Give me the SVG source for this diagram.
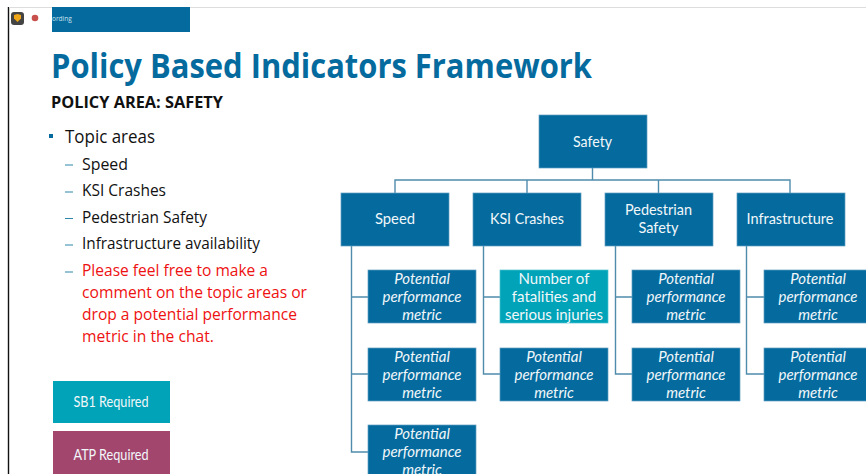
<svg xmlns="http://www.w3.org/2000/svg" width="866" height="474" viewBox="0 0 866 474">
<style>
text{font-family:"Open Sans","Noto Sans","Liberation Sans",sans-serif}
.b{fill:#056b9e;stroke:#5f9fc0;stroke-width:.7}
.t{fill:#00a3b8;stroke:#4fc0cf;stroke-width:.7}
.l{fill:#f2f7fa;font-size:14.400px;text-anchor:middle;font-family:Lato,"Open Sans",sans-serif}
.m{fill:#f2f7fa;font-size:15px;text-anchor:middle;font-style:italic;font-family:Lato,"Open Sans",sans-serif}
.n{fill:#f2f7fa;font-size:15px;text-anchor:middle;font-family:Lato,"Open Sans",sans-serif}
.bul{fill:#111;font-size:16.400px}
.red{fill:#ee1111;font-size:16.400px}
.dash{stroke:#2f86ad;stroke-width:1.2}
#connectors path{fill:none;stroke:#4f8cac;stroke-width:1.400}
</style>
<rect width="866" height="474" fill="#fff"/>
<path d="M8.500 7V474" stroke="#111" stroke-width="1.400"/>
<path d="M9 7.500H866" stroke="#ddd" stroke-width="1"/>
<g id="recording-bar">
<rect x="52" y="7" width="138" height="25" fill="#056b9e"/>
<text x="52" y="21" font-size="6.500" fill="#cfe3ee">ording</text>
<rect x="11" y="12" width="13" height="13" rx="3" fill="#444"/>
<path d="M14 15l3.500-1 3.500 1v3.500l-3.500 3.500-3.500-3.500z" fill="#f0a818"/>
<circle cx="35" cy="18" r="3.300" fill="#c8504c"/>
</g>
<text x="51" y="78" font-size="33.500" font-weight="700" fill="#056b9e" textLength="541" lengthAdjust="spacingAndGlyphs">Policy Based Indicators Framework</text>
<text x="51" y="108" font-size="16" font-weight="700" fill="#111" textLength="172" lengthAdjust="spacingAndGlyphs">POLICY AREA: SAFETY</text>
<rect x="49" y="134" width="4" height="4" fill="#056b9e"/>
<text x="65" y="143" font-size="18" fill="#111" textLength="90" lengthAdjust="spacingAndGlyphs">Topic areas</text>
<g class="dash"><path d="M65 165h8M65 192h8M65 218.500h8M65 245h8M65 272h8"/></g>
<text class="bul" x="82" y="170" textLength="46" lengthAdjust="spacingAndGlyphs">Speed</text>
<text class="bul" x="82" y="196" textLength="84" lengthAdjust="spacingAndGlyphs">KSI Crashes</text>
<text class="bul" x="82" y="223" textLength="125" lengthAdjust="spacingAndGlyphs">Pedestrian Safety</text>
<text class="bul" x="82" y="249" textLength="178" lengthAdjust="spacingAndGlyphs">Infrastructure availability</text>
<text class="red" x="82" y="276" textLength="186" lengthAdjust="spacingAndGlyphs">Please feel free to make a</text>
<text class="red" x="82" y="298" textLength="225" lengthAdjust="spacingAndGlyphs">comment on the topic areas or</text>
<text class="red" x="82" y="320" textLength="215" lengthAdjust="spacingAndGlyphs">drop a potential performance</text>
<text class="red" x="82" y="342" textLength="132" lengthAdjust="spacingAndGlyphs">metric in the chat.</text>
<g id="legend-sb1"><rect x="53" y="381" width="117" height="42" fill="#00a3b8"/><text class="l" x="111" y="407" textLength="75" lengthAdjust="spacingAndGlyphs">SB1 Required</text></g>
<g id="legend-atp"><rect x="53" y="431" width="117" height="43" fill="#a3466e"/><text class="l" x="111" y="460" textLength="75" lengthAdjust="spacingAndGlyphs">ATP Required</text></g>
<g id="connectors">
<path d="M592.500 168V180M395 193V180H790V193M527 180V193M658.500 180V193"/>
<path d="M351.500 246V452H368M351.500 297H368M351.500 374H368"/>
<path d="M483.500 246V374H500M483.500 297H500"/>
<path d="M615.500 246V374H632M615.500 297H632"/>
<path d="M746.500 246V374H764M746.500 297H764"/>
</g>
<g id="safety"><rect class="b" x="539" y="115" width="108" height="53"/><text class="l" x="592.500" y="146.500" textLength="39" lengthAdjust="spacingAndGlyphs">Safety</text></g>
<g id="speed"><rect class="b" x="341" y="193" width="108" height="53"/><text class="l" x="395" y="224" textLength="40" lengthAdjust="spacingAndGlyphs">Speed</text></g>
<g id="ksi"><rect class="b" x="473" y="193" width="108" height="53"/><text class="l" x="527" y="224" textLength="74" lengthAdjust="spacingAndGlyphs">KSI Crashes</text></g>
<g id="pedestrian"><rect class="b" x="605" y="193" width="108" height="53"/><text class="l" x="658.500" y="215" textLength="67" lengthAdjust="spacingAndGlyphs">Pedestrian</text><text class="l" x="658.500" y="233" textLength="40" lengthAdjust="spacingAndGlyphs">Safety</text></g>
<g id="infrastructure"><rect class="b" x="737" y="193" width="108" height="53"/><text class="l" x="790" y="224" textLength="87" lengthAdjust="spacingAndGlyphs">Infrastructure</text></g>
<defs><g id="ppm"><text class="m" x="54" y="14">Potential</text><text class="m" x="54" y="32">performance</text><text class="m" x="54" y="49.500">metric</text></g></defs>
<g id="speed-1"><rect class="b" x="368" y="270" width="108" height="53"/><use href="#ppm" x="368" y="270"/></g>
<g id="speed-2"><rect class="b" x="368" y="348" width="108" height="53"/><use href="#ppm" x="368" y="348"/></g>
<g id="speed-3"><rect class="b" x="368" y="425" width="108" height="53"/><use href="#ppm" x="368" y="425"/></g>
<g id="ksi-1"><rect class="t" x="500" y="270" width="108" height="53"/><text class="n" x="554" y="284">Number of</text><text class="n" x="554" y="302">fatalities and</text><text class="n" x="554" y="319.500">serious injuries</text></g>
<g id="ksi-2"><rect class="b" x="500" y="348" width="108" height="53"/><use href="#ppm" x="500" y="348"/></g>
<g id="ped-1"><rect class="b" x="632" y="270" width="108" height="53"/><use href="#ppm" x="632" y="270"/></g>
<g id="ped-2"><rect class="b" x="632" y="348" width="108" height="53"/><use href="#ppm" x="632" y="348"/></g>
<g id="inf-1"><rect class="b" x="764" y="270" width="108" height="53"/><use href="#ppm" x="764" y="270"/></g>
<g id="inf-2"><rect class="b" x="764" y="348" width="108" height="53"/><use href="#ppm" x="764" y="348"/></g>
</svg>
